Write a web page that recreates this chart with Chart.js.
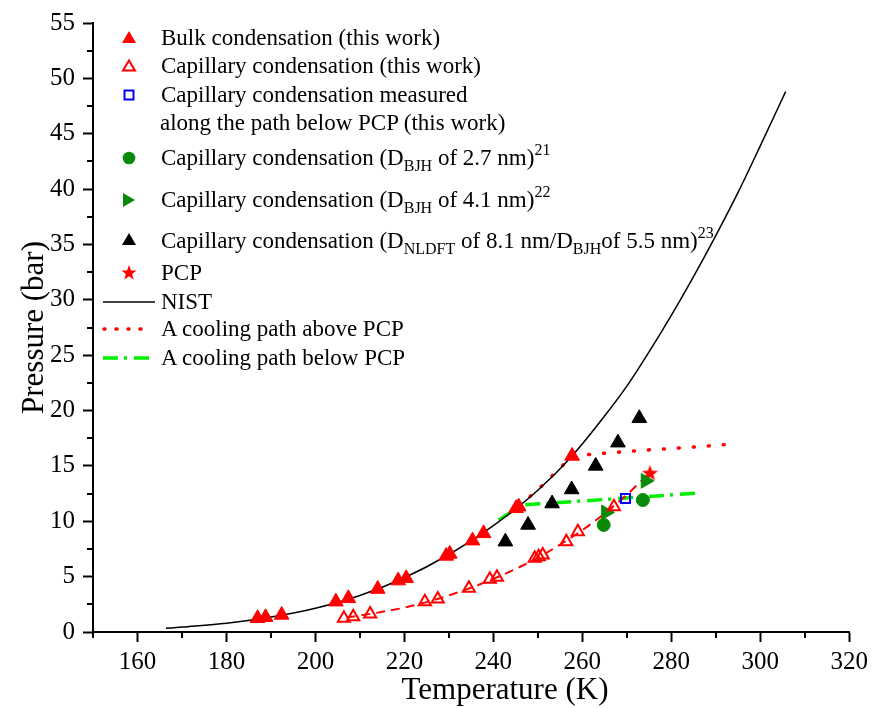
<!DOCTYPE html>
<html>
<head>
<meta charset="utf-8">
<script src="https://cdn.jsdelivr.net/npm/chart.js@4.4.1/dist/chart.umd.min.js"></script>
<style>
  html, body { margin: 0; padding: 0; background: #fff; }
  #wrap { position: relative; width: 873px; height: 708px; font-family: "Liberation Serif", "Times New Roman", serif; color: #000; }
  #wrap canvas { position: absolute; left: 0; top: 0; }
  .lg { position: absolute; left: 161px; font-size: 23px; line-height: 28px; white-space: nowrap; }
  .sb { font-size: 16px; vertical-align: -6px; line-height: 0; }
  .sp { font-size: 16px; vertical-align: 10px; line-height: 0; }
  .ic { position: absolute; overflow: visible; }
  #xtitle { position: absolute; left: 305px; top: 671px; width: 400px; text-align: center; font-size: 31px; line-height: 36px; white-space: nowrap; }
</style>
</head>
<body>
<div id="wrap">
  <canvas id="c" width="873" height="708"></canvas>

  <svg class="ic" style="left:119px;top:28px" width="20" height="20"><polygon points="10,3 17,15 3,15" fill="#ff0000"/></svg>
  <div class="lg" style="top:24px">Bulk condensation (this work)</div>

  <svg class="ic" style="left:119px;top:56px" width="20" height="20"><polygon points="10,4.5 16,14.5 4,14.5" fill="none" stroke="#ff0000" stroke-width="2"/></svg>
  <div class="lg" style="top:52px">Capillary condensation (this work)</div>

  <svg class="ic" style="left:119px;top:85px" width="20" height="20"><rect x="5.5" y="5.5" width="9" height="9" fill="none" stroke="#0000ff" stroke-width="2"/></svg>
  <div class="lg" style="top:81px">Capillary condensation measured</div>
  <div class="lg" style="top:109px;left:160px">along the path below PCP (this work)</div>

  <svg class="ic" style="left:119px;top:148px" width="20" height="20"><circle cx="10" cy="10" r="6.3" fill="#0a8a0a"/></svg>
  <div class="lg" style="top:144px">Capillary condensation (D<span class="sb">BJH</span> of 2.7 nm)<span class="sp">21</span></div>

  <svg class="ic" style="left:119px;top:190px" width="20" height="20"><polygon points="16,10 4,3 4,17" fill="#0a8a0a"/></svg>
  <div class="lg" style="top:186px">Capillary condensation (D<span class="sb">BJH</span> of 4.1 nm)<span class="sp">22</span></div>

  <svg class="ic" style="left:119px;top:230px" width="20" height="20"><polygon points="10,3 17,15 3,15" fill="#000"/></svg>
  <div class="lg" style="top:227px">Capillary condensation (D<span class="sb">NLDFT</span> of 8.1 nm/D<span class="sb">BJH</span>of 5.5 nm)<span class="sp">23</span></div>

  <svg class="ic" style="left:119px;top:263px" width="20" height="20"><polygon points="10,2 12,7.6 17.6,7.6 13.1,11 14.7,16.6 10,13.2 5.3,16.6 6.9,11 2.4,7.6 8,7.6" fill="#ff0000"/></svg>
  <div class="lg" style="top:259px">PCP</div>

  <svg class="ic" style="left:100px;top:292px" width="60" height="20"><line x1="3" y1="10" x2="55" y2="10" stroke="#000" stroke-width="1.5"/></svg>
  <div class="lg" style="top:288px">NIST</div>

  <svg class="ic" style="left:100px;top:319px" width="60" height="20"><line x1="4" y1="10" x2="42" y2="10" stroke="#ff0000" stroke-width="3.5" stroke-dasharray="1,11" stroke-linecap="round"/></svg>
  <div class="lg" style="top:315px">A cooling path above PCP</div>

  <svg class="ic" style="left:100px;top:348px" width="60" height="20"><line x1="3" y1="10" x2="55" y2="10" stroke="#00f000" stroke-width="3.5" stroke-dasharray="15,6,3,7"/></svg>
  <div class="lg" style="top:344px">A cooling path below PCP</div>

  <div id="xtitle">Temperature (K)</div>
</div>

<script>
/* Ethane condensation in pores — NIST saturation curve, measured points and cooling paths. */

// axis ticks
const xTicks = [160, 180, 200, 220, 240, 260, 280, 300, 320];
const xMinor = [150, 170, 190, 210, 230, 250, 270, 290, 310];
const yTicks = [0, 5, 10, 15, 20, 25, 30, 35, 40, 45, 50, 55];
const yMinor = [2.5, 7.5, 12.5, 17.5, 22.5, 27.5, 32.5, 37.5, 42.5, 47.5, 52.5];

// NIST saturation curve
const nistT = [166.4, 170, 180, 190, 200, 210, 220, 230, 240, 250, 257.7, 265, 270, 275, 280, 285, 290, 295, 300, 305.7];
const nistP = [0.33, 0.45, 0.8, 1.35, 2.15, 3.3, 4.9, 7.0, 9.6, 12.8, 15.9, 19.5, 22.2, 25.3, 28.6, 32.1, 35.8, 39.7, 43.9, 48.8];

// bulk condensation (this work)
const bulkT = [187.0, 188.8, 192.4, 204.6, 207.4, 214.0, 218.6, 220.4, 229.4, 230.2, 235.3, 237.8, 245.1, 245.7, 257.7];
const bulkP = [1.24, 1.33, 1.54, 2.74, 3.04, 3.88, 4.64, 4.85, 6.87, 7.05, 8.25, 8.91, 11.17, 11.32, 15.9];

// capillary condensation (this work)
const capT = [206.4, 208.5, 212.3, 224.6, 227.5, 234.5, 239.2, 240.8, 249.3, 250.2, 251.1, 256.4, 259.0, 267.1];
const capP = [1.24, 1.38, 1.63, 2.74, 2.98, 3.95, 4.76, 4.94, 6.65, 6.8, 6.96, 8.16, 9.06, 11.32];

// dashed guide through capillary points up to PCP
const capFitT = [207, 214, 220, 225, 230, 235, 240, 245, 250, 255, 260, 265, 270, 275.2];
const capFitP = [1.3, 1.75, 2.2, 2.7, 3.3, 4.0, 4.8, 5.7, 6.7, 7.9, 9.2, 10.7, 12.4, 14.4];

// measured along the path below PCP
const sqT = [269.7];
const sqP = [12.05];

// literature data
const bjh27T = [264.8, 273.6];
const bjh27P = [9.67, 11.92];
const bjh41T = [265.3, 274.2];
const bjh41P = [10.8, 13.65];
const nldftT = [242.7, 247.8, 253.2, 257.6, 263.0, 268.0, 272.8];
const nldftP = [8.16, 9.67, 11.6, 12.87, 15.0, 17.1, 19.3];

// pore critical point
const pcpT = [275.2];
const pcpP = [14.39];

// cooling paths
const aboveT = [245.7, 248.0, 250.5, 254.5, 257.7, 265, 275, 285, 294.6];
const aboveP = [11.35, 12.15, 13.05, 14.6, 15.9, 16.15, 16.45, 16.7, 17.0];
const belowT = [241.2, 243.8, 246.6, 285.6];
const belowP = [10.1, 10.8, 11.47, 12.53];

(function () {
  const pts = (ts, ps) => ts.map((t, i) => ({ x: t, y: ps[i] }));
  const FONT = '"Liberation Serif", "Times New Roman", serif';
  const RED = '#ff0000', GREEN = '#0a8a0a', LIME = '#00f000';
  Chart.defaults.font.family = FONT;
  Chart.defaults.color = '#000';

  function starCanvas(r, color) {
    const c = document.createElement('canvas');
    c.width = c.height = Math.ceil(r * 2 + 2);
    const g = c.getContext('2d'), cx = c.width / 2, cy = c.height / 2 + 0.8;
    g.beginPath();
    for (let i = 0; i < 10; i++) {
      const a = -Math.PI / 2 + i * Math.PI / 5, rr = i % 2 ? r * 0.42 : r;
      g.lineTo(cx + Math.cos(a) * rr, cy + Math.sin(a) * rr);
    }
    g.closePath(); g.fillStyle = color; g.fill();
    return c;
  }

  const line = (data, color, width, dash, extra) => Object.assign({
    data, showLine: true, borderColor: color, borderWidth: width, borderDash: dash,
    pointRadius: 0, fill: false, order: 2
  }, extra || {});

  const marks = (data, style, fill, stroke, r, extra) => Object.assign({
    data, showLine: false, pointStyle: style, pointRadius: r,
    backgroundColor: fill, borderColor: stroke, borderWidth: 1, order: 1
  }, extra || {});

  // short minor ticks between the labelled ones
  const minorTicks = {
    id: 'minorTicks',
    afterDraw(chart) {
      const { ctx, scales: { x, y } } = chart;
      ctx.save();
      ctx.strokeStyle = '#000'; ctx.lineWidth = 2;
      ctx.beginPath();
      xMinor.forEach(v => { const p = Math.round(x.getPixelForValue(v)); ctx.moveTo(p, y.bottom); ctx.lineTo(p, y.bottom + 6); });
      yMinor.forEach(v => { const p = Math.round(y.getPixelForValue(v)); ctx.moveTo(x.left, p); ctx.lineTo(x.left - 6, p); });
      ctx.stroke();
      ctx.restore();
    }
  };

  const axis = (min, max, ticks, pad, title, fit) => ({
    type: 'linear', min, max,
    afterBuildTicks: s => { s.ticks = ticks.map(v => ({ value: v })); },
    afterFit: fit,
    ticks: { color: '#000', font: { family: FONT, size: 25 }, padding: pad, maxRotation: 0, autoSkip: false },
    grid: { drawOnChartArea: false, drawTicks: true, tickLength: 10, tickWidth: 2, tickColor: '#000' },
    border: { color: '#000', width: 2 },
    title
  });

  new Chart(document.getElementById('c'), {
    type: 'scatter',
    data: {
      datasets: [
        line(pts(nistT, nistP), '#000', 1.5, [], { cubicInterpolationMode: 'monotone' }),
        line(pts(capFitT, capFitP), RED, 2, [9, 6], { cubicInterpolationMode: 'monotone' }),
        line(pts(aboveT, aboveP), RED, 3.5, [1, 14], { borderCapStyle: 'round' }),
        line(pts(belowT, belowP), LIME, 3.5, [15, 6, 3, 7]),
        marks(pts(bulkT, bulkP), 'triangle', RED, RED, 8.5),
        marks(pts(capT, capP), 'triangle', 'rgba(0,0,0,0)', RED, 7, { borderWidth: 2 }),
        marks(pts(nldftT, nldftP), 'triangle', '#000', '#000', 8.5),
        marks(pts(bjh27T, bjh27P), 'circle', GREEN, GREEN, 6.5),
        marks(pts(bjh41T, bjh41P), 'triangle', GREEN, GREEN, 8.5, { rotation: 90 }),
        marks(pts(sqT, sqP), 'rect', 'rgba(0,0,0,0)', '#0000ff', 6.4, { borderWidth: 2 }),
        marks(pts(pcpT, pcpP), starCanvas(8.5, RED), RED, RED, 9)
      ]
    },
    options: {
      responsive: false,
      animation: false,
      devicePixelRatio: 1,
      layout: { padding: { top: 22, right: 23, left: 0, bottom: 0 } },
      plugins: { legend: { display: false }, tooltip: { enabled: false } },
      scales: {
        x: axis(150, 320, xTicks, 5, { display: false }, s => { s.height = 76; }),
        y: axis(0, 55, yTicks, 8, {
          display: true, text: 'Pressure (bar)', color: '#000',
          font: { family: FONT, size: 31 }, padding: { top: 16, bottom: 0 }
        }, s => { s.width = 93; })
      }
    },
    plugins: [minorTicks]
  });
})();
</script>
</body>
</html>
